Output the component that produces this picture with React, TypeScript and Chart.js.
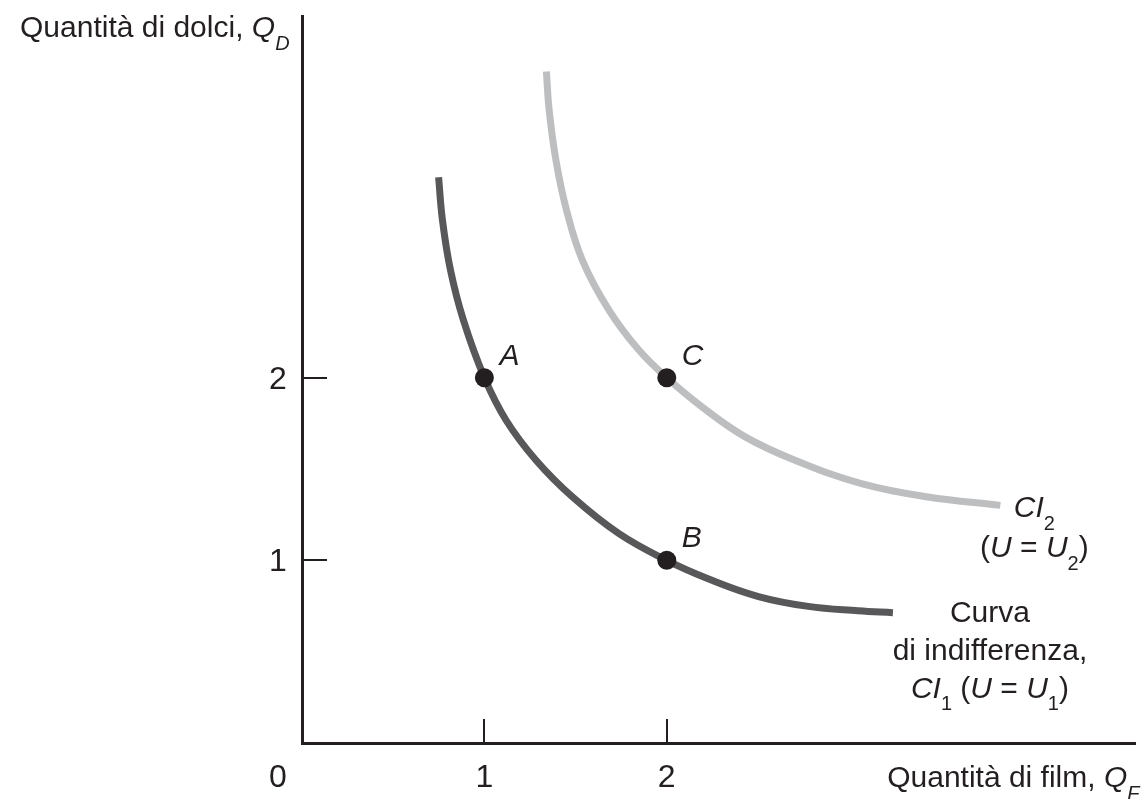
import React, { useEffect, useRef } from "react";
import { Chart, registerables } from "chart.js";

Chart.register(...registerables);

// ---- data ----
const ci1X = [0.749, 0.77, 0.814, 0.885, 1.0, 1.119, 1.283, 1.483, 1.738, 2.0, 2.23, 2.503, 2.776, 3.049, 3.24];
const ci1Y = [3.097, 2.863, 2.589, 2.315, 2.0, 1.767, 1.548, 1.347, 1.146, 1.0, 0.898, 0.802, 0.748, 0.724, 0.713];
const ci2X = [1.34, 1.355, 1.392, 1.45, 1.537, 1.683, 1.847, 2.0, 2.193, 2.43, 2.703, 3.067, 3.432, 3.829];
const ci2Y = [3.676, 3.466, 3.192, 2.918, 2.644, 2.37, 2.151, 2.0, 1.84, 1.676, 1.548, 1.42, 1.347, 1.301];
const pointLabels = ["A", "B", "C"];
const pointX = [1, 2, 2];
const pointY = [2, 1, 2];
const xTickValues = [1, 2];
const xTickLabels = ["1", "2"];
const yTickValues = [1, 2];
const yTickLabels = ["1", "2"];
const originLabel = "0";
const xMax = 4.57;
const yMax = 3.98;

type Seg = { t: string; it?: boolean; sub?: boolean };
const yTitle: Seg[] = [{ t: "Quantità di dolci, " }, { t: "Q", it: true }, { t: "D", it: true, sub: true }];
const xTitle: Seg[] = [{ t: "Quantità di film, " }, { t: "Q", it: true }, { t: "F", it: true, sub: true }];
const ci2Lines: Seg[][] = [
  [{ t: "CI", it: true }, { t: "2", sub: true }],
  [{ t: "(" }, { t: "U", it: true }, { t: " = " }, { t: "U", it: true }, { t: "2", sub: true }, { t: ")" }],
];
const ci1Lines: Seg[][] = [
  [{ t: "Curva" }],
  [{ t: "di indifferenza," }],
  [
    { t: "CI", it: true },
    { t: "1", sub: true },
    { t: " (" },
    { t: "U", it: true },
    { t: " = " },
    { t: "U", it: true },
    { t: "1", sub: true },
    { t: ")" },
  ],
];

const INK = "#231f20";
const FAMILY = "'Liberation Sans', Arial, sans-serif";
const FS = 30;

function segFont(s: Seg, size: number) {
  const sz = s.sub ? Math.round(size * 0.66) : size;
  return `${s.it ? "italic " : ""}${sz}px ${FAMILY}`;
}

function drawRich(
  ctx: CanvasRenderingContext2D,
  segs: Seg[],
  x: number,
  baseline: number,
  align: "left" | "center" | "right",
  size = FS
) {
  ctx.save();
  ctx.textAlign = "left";
  ctx.textBaseline = "alphabetic";
  ctx.fillStyle = INK;
  let w = 0;
  for (const s of segs) {
    ctx.font = segFont(s, size);
    w += ctx.measureText(s.t).width;
  }
  let cx = align === "left" ? x : align === "center" ? x - w / 2 : x - w;
  for (const s of segs) {
    ctx.font = segFont(s, size);
    ctx.fillText(s.t, cx, s.sub ? baseline + size * 0.42 : baseline);
    cx += ctx.measureText(s.t).width;
  }
  ctx.restore();
}

const annotationPlugin = {
  id: "econAnnotations",
  afterDraw(chart: any) {
    const ctx: CanvasRenderingContext2D = chart.ctx;
    const xs = chart.scales.x;
    const ys = chart.scales.y;
    const area = chart.chartArea;

    // tick marks (inside)
    ctx.save();
    ctx.strokeStyle = INK;
    ctx.lineWidth = 2;
    xTickValues.forEach((v) => {
      const px = Math.round(xs.getPixelForValue(v));
      ctx.beginPath();
      ctx.moveTo(px, area.bottom);
      ctx.lineTo(px, area.bottom - 24);
      ctx.stroke();
    });
    yTickValues.forEach((v) => {
      const py = Math.round(ys.getPixelForValue(v));
      ctx.beginPath();
      ctx.moveTo(area.left, py);
      ctx.lineTo(area.left + 25, py);
      ctx.stroke();
    });
    ctx.restore();

    // tick labels
    const labelX = area.left - 24;
    xTickValues.forEach((v, i) => {
      drawRich(ctx, [{ t: xTickLabels[i] }], xs.getPixelForValue(v), area.bottom + 44, "center", 32);
    });
    drawRich(ctx, [{ t: originLabel }], labelX, area.bottom + 44, "center", 32);
    yTickValues.forEach((v, i) => {
      drawRich(ctx, [{ t: yTickLabels[i] }], labelX, ys.getPixelForValue(v) + 11, "center", 32);
    });

    // axis titles
    drawRich(ctx, yTitle, 20, area.top + 21, "left");
    drawRich(ctx, xTitle, area.right + 4, area.bottom + 44, "right");

    // point labels
    pointLabels.forEach((lab, i) => {
      const px = xs.getPixelForValue(pointX[i]);
      const py = ys.getPixelForValue(pointY[i]);
      drawRich(ctx, [{ t: lab, it: true }], px + 15, py - 13, "left");
    });

    // curve labels
    const c2x = xs.getPixelForValue(ci2X[ci2X.length - 1]) + 34;
    const c2y = ys.getPixelForValue(ci2Y[ci2Y.length - 1]) + 12;
    ci2Lines.forEach((line, i) => drawRich(ctx, line, c2x, c2y + i * 40, "center"));
    const c1x = xs.getPixelForValue(ci1X[ci1X.length - 1]) + 97;
    const c1y = ys.getPixelForValue(ci1Y[ci1Y.length - 1]) + 9;
    ci1Lines.forEach((line, i) => drawRich(ctx, line, c1x, c1y + i * 38, "center"));
  },
};

export default function App() {
  const ref = useRef<HTMLCanvasElement | null>(null);
  useEffect(() => {
    if (!ref.current) return;
    const chart = new Chart(ref.current, {
      type: "scatter",
      data: {
        datasets: [
          {
            label: "Punti",
            data: pointX.map((x, i) => ({ x, y: pointY[i] })),
            pointRadius: 9.5,
            pointBackgroundColor: INK,
            pointBorderWidth: 0,
            showLine: false,
          },
          {
            label: "CI1",
            data: ci1X.map((x, i) => ({ x, y: ci1Y[i] })),
            showLine: true,
            borderColor: "#58585a",
            borderWidth: 7,
            pointRadius: 0,
            tension: 0.4,
          },
          {
            label: "CI2",
            data: ci2X.map((x, i) => ({ x, y: ci2Y[i] })),
            showLine: true,
            borderColor: "#bcbec0",
            borderWidth: 7,
            pointRadius: 0,
            tension: 0.4,
          },
        ],
      },
      options: {
        animation: false,
        responsive: false,
        events: [],
        layout: { padding: { left: 302, top: 16, right: 7, bottom: 56 } },
        plugins: { legend: { display: false }, tooltip: { enabled: false } },
        scales: {
          x: {
            type: "linear",
            min: 0,
            max: xMax,
            grid: { display: false, drawTicks: false },
            ticks: { display: false },
            border: { display: true, color: INK, width: 3 },
          },
          y: {
            type: "linear",
            min: 0,
            max: yMax,
            grid: { display: false, drawTicks: false },
            ticks: { display: false },
            border: { display: true, color: INK, width: 3 },
          },
        },
      },
      plugins: [annotationPlugin],
    });
    return () => chart.destroy();
  }, []);
  return (
    <div style={{ position: "absolute", left: 0, top: 0, width: 1145, height: 799, background: "#fff" }}>
      <canvas ref={ref} width={1145} height={799} style={{ display: "block" }} />
    </div>
  );
}
